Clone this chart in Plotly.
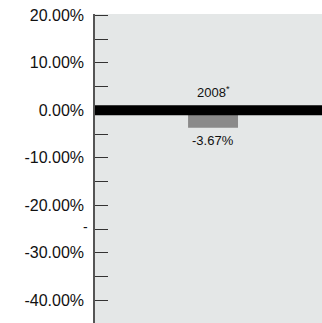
import plotly.graph_objects as go

categories = ["2008"]
values = [-3.67]
bar_labels = ["-3.67%"]
category_labels = ["2008<sup>*</sup>"]
tick_vals = [20, 10, 0, -10, -20, -30, -40]
tick_text = ["20.00%", "10.00%", "0.00%", "-10.00%", "-20.00%", "-30.00%", "-40.00%"]

xpos = list(range(len(categories)))

fig = go.Figure()
fig.add_trace(go.Bar(
    x=xpos, y=values, width=0.22,
    marker=dict(color="#8a8a8a", line=dict(width=0)),
    hoverinfo="skip",
))

for xp, v, lab, cl in zip(xpos, values, bar_labels, category_labels):
    fig.add_annotation(x=xp, y=0, text=cl, showarrow=False, yanchor="bottom", yshift=8,
                       font=dict(size=13, color="#111"))
    fig.add_annotation(x=xp, y=v, text=lab, showarrow=False, yanchor="top", yshift=-3,
                       font=dict(size=13, color="#111"))

# thick zero line above the bar
fig.add_shape(type="line", xref="paper", x0=0, x1=1, yref="y", y0=0, y1=0,
              line=dict(color="black", width=10), layer="above")

# stray dash label seen on the axis
fig.add_annotation(xref="paper", x=-0.02, y=-24.6, text="-", showarrow=False,
                   xanchor="right", font=dict(size=14, color="#111"))

fig.update_layout(
    width=322, height=323,
    margin=dict(l=95, r=0, t=14, b=0),
    paper_bgcolor="white",
    plot_bgcolor="#e4e7e7",
    showlegend=False,
    font=dict(family="Liberation Sans Narrow, Liberation Sans, Arial", color="#111"),
    xaxis=dict(type="linear", range=[-0.52, 0.48], showticklabels=False, showgrid=False,
               zeroline=False, ticks="", showline=False),
    yaxis=dict(range=[-44.8, 20.3], tickvals=tick_vals, ticktext=tick_text,
               showgrid=False, zeroline=False,
               ticks="inside", ticklen=13, tickwidth=1, tickcolor="#333",
               ticklabelstandoff=6,
               showline=True, linecolor="#555", linewidth=1.5,
               tickfont=dict(size=16, family="Liberation Sans, Arial", color="#111"),
               minor=dict(dtick=5, tick0=0, ticks="inside", ticklen=13, tickwidth=1, tickcolor="#333")),
)

fig.write_html("out.html")
